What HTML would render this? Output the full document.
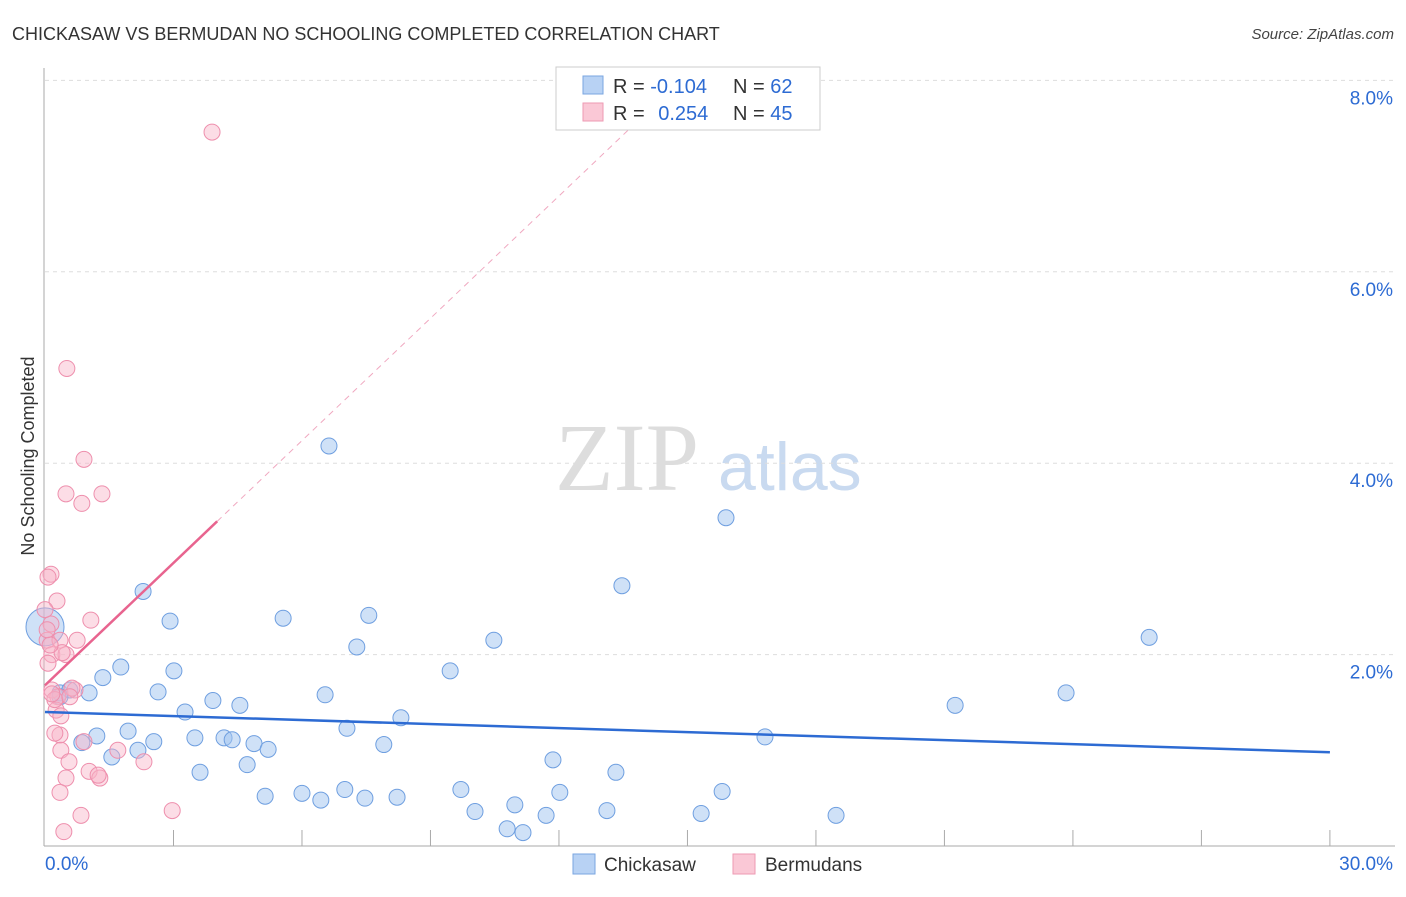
<!DOCTYPE html>
<html><head><meta charset="utf-8"><style>
body{margin:0;background:#fff;font-family:"Liberation Sans",sans-serif;}
</style></head><body>
<svg width="1406" height="892" xmlns="http://www.w3.org/2000/svg">
<text x="12" y="40" font-size="18" fill="#333">CHICKASAW VS BERMUDAN NO SCHOOLING COMPLETED CORRELATION CHART</text>
<text x="1394" y="39" font-size="15" fill="#444" font-style="italic" text-anchor="end">Source: ZipAtlas.com</text>
<text x="555" y="490" font-size="96" fill="#ddd" font-family="Liberation Serif,serif">ZIP</text>
<text x="718" y="490" font-size="68" fill="#c9daf0">atlas</text>
<g id="grid"></g>
<g id="axes"></g>
<g id="marks"></g>
<text transform="translate(34,456) rotate(-90)" font-size="18" fill="#333" text-anchor="middle">No Schooling Completed</text>
<g>
<rect x="556" y="67" width="264" height="63" fill="#fff" stroke="#ccc"/>
<rect x="583" y="76" width="20" height="18" fill="#b8d2f4" stroke="#7aa6e0"/>
<rect x="583" y="103" width="20" height="18" fill="#fac8d6" stroke="#ee9ab3"/>
<text x="613" y="93" font-size="20" fill="#333">R = <tspan fill="#2d6bd3">-0.104</tspan></text>
<text x="733" y="93" font-size="20" fill="#333">N = <tspan fill="#2d6bd3">62</tspan></text>
<text x="613" y="120" font-size="20" fill="#333">R = <tspan fill="#2d6bd3" dx="8">0.254</tspan></text>
<text x="733" y="120" font-size="20" fill="#333">N = <tspan fill="#2d6bd3">45</tspan></text>
</g>
<g>
<rect x="573" y="854" width="22" height="20" fill="#b8d2f4" stroke="#7aa6e0"/>
<text x="604" y="871" font-size="19" fill="#333">Chickasaw</text>
<rect x="733" y="854" width="22" height="20" fill="#fac8d6" stroke="#ee9ab3"/>
<text x="765" y="871" font-size="19" fill="#333">Bermudans</text>
</g>
</svg>
<script>
const blueX=[2.29,2.92,1.77,1.35,3.01,2.64,1.03,0.35,0.58,3.92,4.55,3.27,1.94,1.21,2.54,3.50,4.18,4.37,4.88,5.21,0.86,1.56,2.17,3.62,4.72,5.14,6.00,6.44,7.00,7.47,8.22,5.56,7.56,7.28,6.54,7.05,7.91,8.31,6.63,9.46,10.48,9.71,10.04,10.79,10.97,11.16,11.70,11.86,12.02,13.12,13.33,13.47,15.32,15.81,15.90,16.81,18.47,21.25,23.84,25.78,0.35];
const blueY=[2.66,2.35,1.87,1.76,1.83,1.61,1.60,1.60,1.63,1.52,1.47,1.40,1.20,1.15,1.09,1.13,1.13,1.11,1.07,1.01,1.08,0.93,1.00,0.77,0.85,0.52,0.55,0.48,0.59,0.50,0.51,2.38,2.41,2.08,1.58,1.23,1.06,1.34,4.18,1.83,2.15,0.59,0.36,0.18,0.43,0.14,0.32,0.90,0.56,0.37,0.77,2.72,0.34,0.57,3.43,1.14,0.32,1.47,1.60,2.18,1.56];
const pinkX=[3.90,0.51,0.91,0.49,1.33,0.86,0.14,0.07,0.28,1.07,0.75,0.14,0.05,0.35,0.16,0.49,0.07,0.40,0.16,0.70,0.30,0.26,0.37,0.35,0.23,0.91,0.37,1.70,0.56,1.03,2.31,1.28,1.24,0.49,0.35,0.84,2.97,0.44,0.12,0.05,0.63,0.23,0.58,0,0.16];
const pinkY=[7.46,4.99,4.04,3.68,3.68,3.58,2.84,2.81,2.56,2.36,2.15,2.32,2.15,2.15,2.00,2.00,1.91,2.02,1.63,1.63,1.56,1.42,1.36,1.16,1.18,1.09,1.00,1.00,0.88,0.78,0.88,0.71,0.74,0.71,0.56,0.32,0.37,0.15,2.10,2.26,1.65,1.53,1.56,2.47,1.59];
const yTicks=[2,4,6,8];
const xTickLabels=["0.0%","30.0%"];
const blueTrend=[1.40,0.98];
const pinkTrend=[1.68,0.426];
const NS="http://www.w3.org/2000/svg";
const X=v=>45+v*42.83, Y=v=>846-v*95.7;
function mk(t,a,p){const e=document.createElementNS(NS,t);for(const k in a)e.setAttribute(k,a[k]);document.getElementById(p).appendChild(e);return e;}
yTicks.forEach(t=>{
 const g=mk('line',{x1:45,x2:1395,y1:Y(t),y2:Y(t),stroke:'#ddd','stroke-dasharray':'4,4'},'grid');
 
 
 const l=mk('text',{x:1393,y:Y(t)+24,'font-size':19,fill:'#2d6bd3','text-anchor':'end'},'axes');
 l.textContent=t.toFixed(1)+'%';
 
 
});
mk('line',{x1:44,x2:44,y1:68,y2:846,stroke:'#aaa'},'axes');
mk('line',{x1:44,x2:1395,y1:846,y2:846,stroke:'#aaa'},'axes');
for(let i=1;i<=10;i++){mk('line',{x1:X(i*3),x2:X(i*3),y1:830,y2:846,stroke:'#aaa'},'axes');}
const xl0=mk('text',{x:45,y:870,'font-size':19,fill:'#2d6bd3'},'axes');xl0.textContent=xTickLabels[0];


const xl1=mk('text',{x:1393,y:870,'font-size':19,fill:'#2d6bd3','text-anchor':'end'},'axes');xl1.textContent=xTickLabels[1];


blueX.forEach((v,i)=>{const c=mk('circle',{cx:X(v),cy:Y(blueY[i]),r:8,fill:'rgba(160,196,240,0.5)',stroke:'#6f9fe0','stroke-width':1},'marks');
 
 });
const big=mk('circle',{cx:X(0),cy:Y(2.29),r:19,fill:'rgba(160,196,240,0.5)',stroke:'#6f9fe0'},'marks');


pinkX.forEach((v,i)=>{const c=mk('circle',{cx:X(v),cy:Y(pinkY[i]),r:8,fill:'rgba(248,180,200,0.45)',stroke:'#ee8fad','stroke-width':1},'marks');
 
 });
const bt=mk('line',{x1:X(0),y1:Y(blueTrend[0]),x2:X(30),y2:Y(blueTrend[1]),stroke:'#2d6bd3','stroke-width':2.5},'marks');


const pt=mk('line',{x1:X(0),y1:Y(pinkTrend[0]),x2:X(4.02),y2:Y(pinkTrend[0]+pinkTrend[1]*4.02),stroke:'#e8648f','stroke-width':2.5},'marks');


const pd=mk('line',{x1:X(4.02),y1:Y(pinkTrend[0]+pinkTrend[1]*4.02),x2:X(13.7),y2:Y(pinkTrend[0]+pinkTrend[1]*13.7),stroke:'#f0a8c0','stroke-width':1,'stroke-dasharray':'6,5'},'marks');


</script>
</body></html>
